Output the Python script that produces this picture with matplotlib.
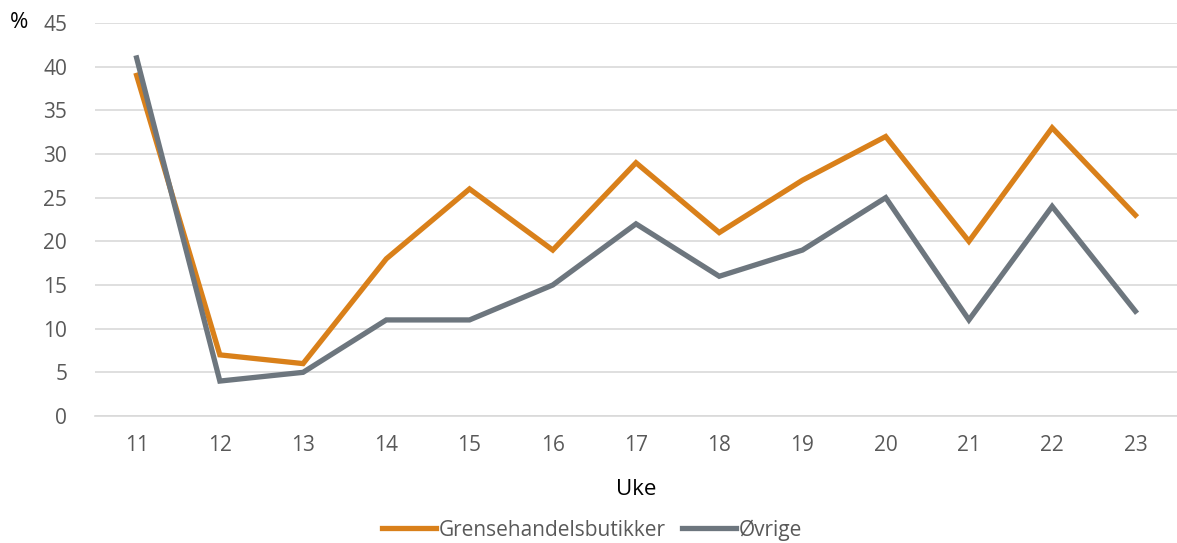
import matplotlib.pyplot as plt

uker = ["11", "12", "13", "14", "15", "16", "17", "18", "19", "20", "21", "22", "23"]
grensehandel = [39, 7, 6, 18, 26, 19, 29, 21, 27, 32, 20, 33, 23]
ovrige = [41, 4, 5, 11, 11, 15, 22, 16, 19, 25, 11, 24, 12]

plt.rcParams['font.family'] = ['Open Sans', 'DejaVu Sans']

fig = plt.figure(figsize=(11.77, 5.43), dpi=100)
ax = fig.add_axes([95 / 1177, 1 - 416 / 543, 1 - 95 / 1177, 393 / 543])

x = range(len(uker))
ax.plot(x, grensehandel, color="#D9801A", lw=3.8, label="Grensehandelsbutikker", solid_joinstyle="miter")
ax.plot(x, ovrige, color="#6D767E", lw=3.8, label="Øvrige", solid_joinstyle="miter")

ax.set_xlim(-0.5, len(uker) - 0.5)
ax.set_ylim(0, 45)
ax.set_yticks(range(0, 50, 5))
ax.set_xticks(list(x))
ax.set_xticklabels(uker)
ax.grid(axis="y", color="#D9D9D9", lw=1.2)
ax.set_axisbelow(True)
for s in ["top", "right", "left"]:
    ax.spines[s].set_visible(False)
ax.spines["bottom"].set_color("#D9D9D9")
ax.spines["bottom"].set_linewidth(1.2)
ax.tick_params(length=0, labelsize=15, colors="#595959", pad=14)
ax.tick_params(axis="y", pad=20)

ax.set_xlabel("Uke", fontsize=16, color="black", labelpad=16)
fig.text(10 / 1177, 1 - 23 / 543, "%", fontsize=16, va="center", ha="left")

fig.legend(loc="center", bbox_to_anchor=(592 / 1177, 1 - 530 / 543), ncol=2, frameon=False,
           fontsize=15, handlelength=2.6, columnspacing=0.8, handletextpad=0.1,
           labelcolor="#595959")

fig.savefig("out.png")
